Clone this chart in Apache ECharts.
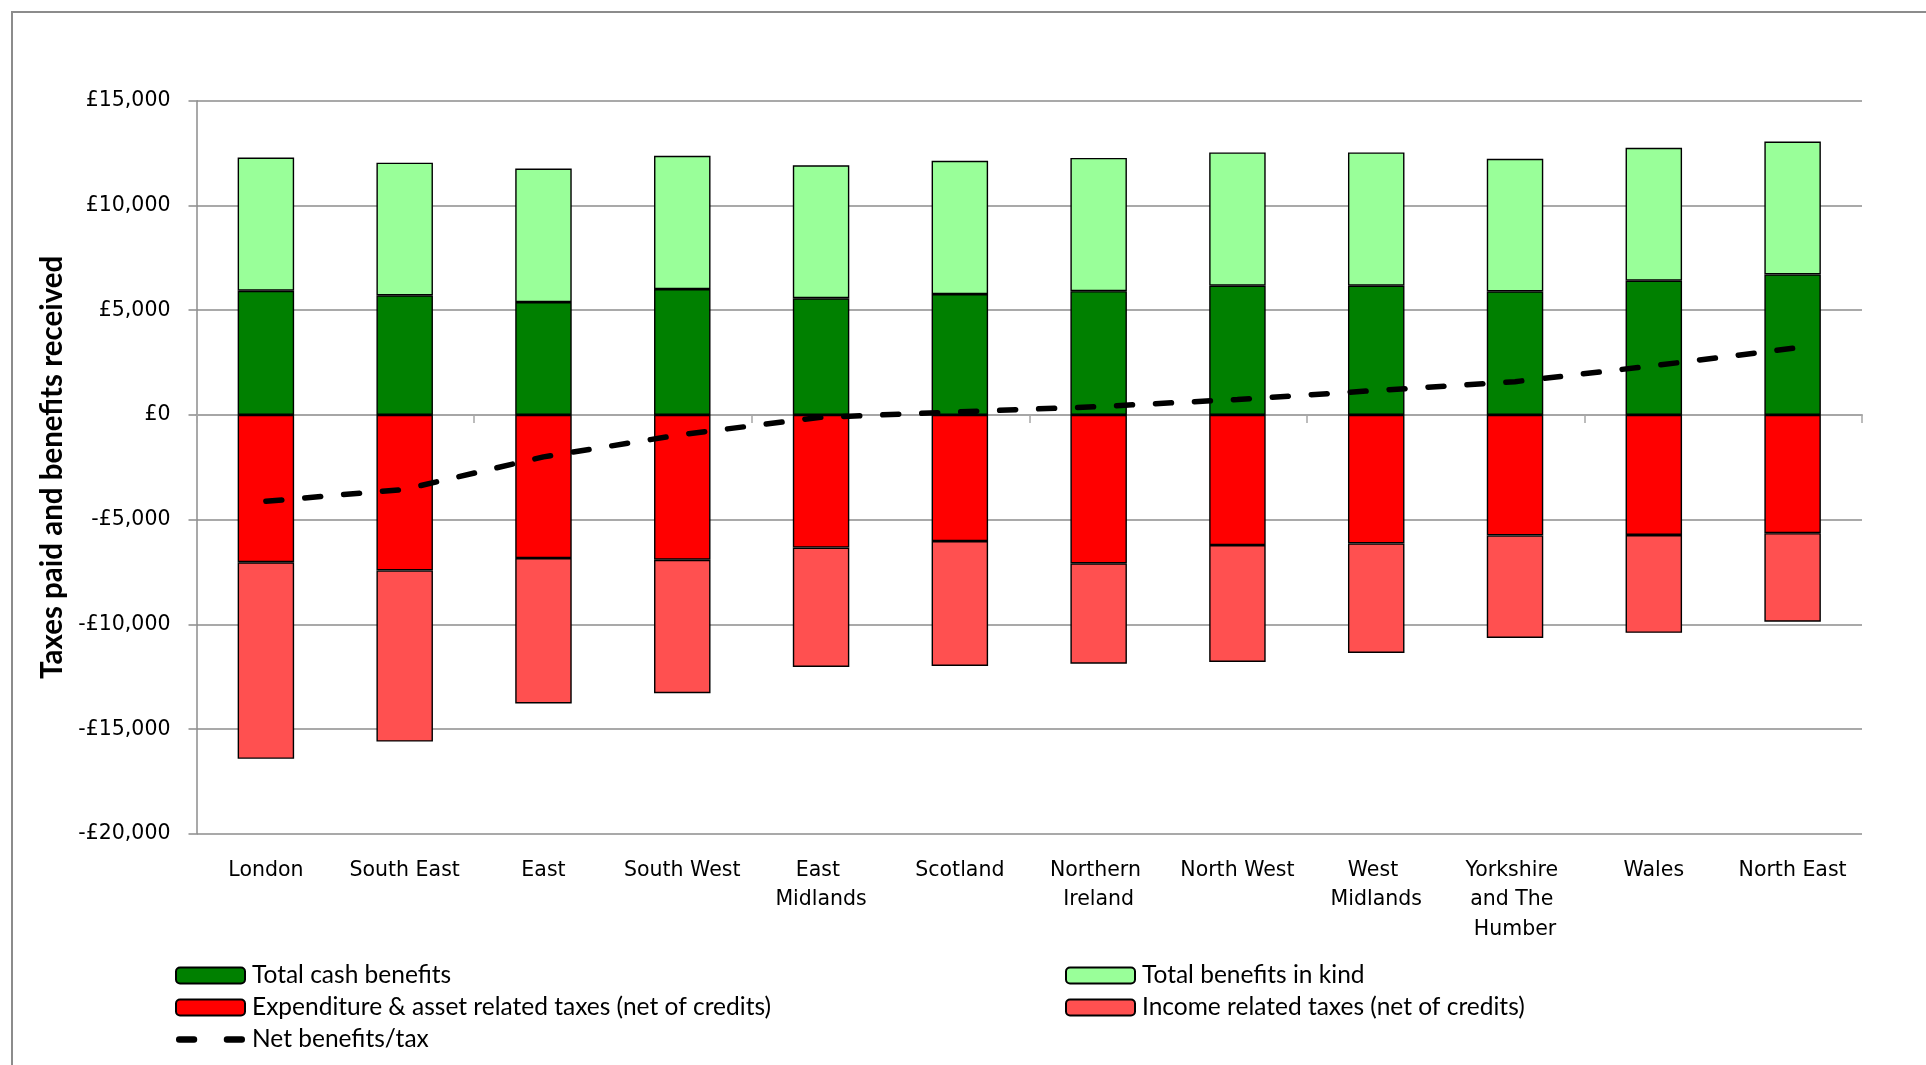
<!DOCTYPE html>
<html>
<head>
<meta charset="utf-8">
<script src="https://cdn.jsdelivr.net/npm/echarts@6/dist/echarts.min.js"></script>
<style>
  html, body { margin: 0; padding: 0; background: #fff; }
  #chart { width: 1926px; height: 1065px; }
</style>
</head>
<body>
<div id="chart"></div>
<script>
// Regions, ordered by net benefit per person
const categories = ['London', 'South East', 'East', 'South West', 'East Midlands', 'Scotland',
  'Northern Ireland', 'North West', 'West Midlands', 'Yorkshire and The Humber', 'Wales', 'North East'];

// Benefits received (positive) and taxes paid (negative), £ per person
const cashBenefits = [5930, 5710, 5390, 6010, 5570, 5770, 5910, 6170, 6170, 5900, 6410, 6710];
const benefitsInKind = [6360, 6330, 6370, 6360, 6350, 6360, 6360, 6360, 6360, 6330, 6340, 6340];
const expenditureTaxes = [-7030, -7420, -6830, -6910, -6330, -6020, -7080, -6210, -6130, -5750, -5730, -5640];
const incomeTaxes = [-9380, -8170, -6940, -6370, -5700, -5960, -4790, -5580, -5230, -4890, -4670, -4230];
const netBenefits = [-4120, -3550, -2000, -930, -110, 150, 400, 740, 1170, 1590, 2350, 3180];

// Value axis range
const yMin = -20000;
const yMax = 15000;
const yStep = 5000;

function poundLabel(v) {
  if (v === 0) return '£0';
  const s = '£' + Math.abs(v).toLocaleString('en-GB');
  return v < 0 ? '-' + s : s;
}

// Two rounded dashes for the net line's legend key
const dashIcon = 'path://M3,0h14a3,3 0 0 1 0,6h-14a3,3 0 0 1 0,-6z M48,0h14a3,3 0 0 1 0,6h-14a3,3 0 0 1 0,-6z';

const chart = echarts.init(document.getElementById('chart'), null, { renderer: 'canvas' });
const grey = '#8c8c8c';
const barBorder = { borderColor: '#000', borderWidth: 1.4 };
const legendText = { fontFamily: 'Lato', fontSize: 24.5, color: '#000', lineHeight: 16, padding: [0, 0, 0, 2] };

chart.setOption({
  backgroundColor: '#fff',
  animation: false,
  graphic: [{
    type: 'rect',
    shape: { x: 12, y: 12, width: 2000, height: 1200 },
    style: { fill: 'none', stroke: grey, lineWidth: 2 },
    silent: true
  }],
  grid: { left: 196.5, right: 64, top: 100.7, bottom: 231, containLabel: false },
  legend: [{
    orient: 'vertical', left: 175, top: 963, padding: 0,
    itemWidth: 69, itemHeight: 16, itemGap: 7,
    data: [
      'Total cash benefits',
      'Expenditure & asset related taxes (net of credits)',
      { name: 'Net benefits/tax', icon: dashIcon, itemStyle: { color: '#000', borderWidth: 0 } }
    ],
    textStyle: legendText
  }, {
    orient: 'vertical', left: 1065, top: 963, padding: 0,
    itemWidth: 69, itemHeight: 16, itemGap: 7,
    data: ['Total benefits in kind', 'Income related taxes (net of credits)'],
    textStyle: legendText
  }],
  xAxis: [{
    type: 'category', data: categories, position: 'bottom',
    axisLine: { show: false, onZero: false },
    axisTick: { show: false },
    axisLabel: {
      interval: 0, fontFamily: 'DejaVu Sans', fontSize: 20.5, color: '#000',
      margin: 21.5, lineHeight: 29.5, width: 136, overflow: 'break'
    }
  }, {
    // category axis drawn along £0, ticks between regions
    type: 'category', data: categories, position: 'bottom',
    axisLine: { show: true, onZero: true, lineStyle: { color: '#a6a6a6', width: 2 } },
    axisTick: { show: true, length: 8, lineStyle: { color: '#a6a6a6', width: 1.5 } },
    axisLabel: { show: false },
    splitLine: { show: false }
  }],
  yAxis: {
    type: 'value', min: yMin, max: yMax, interval: yStep,
    name: 'Taxes paid and benefits received',
    nameLocation: 'middle', nameGap: 126,
    nameTextStyle: { fontFamily: 'Lato', fontWeight: 'bold', fontSize: 29.5, color: '#000' },
    axisLine: { show: true, lineStyle: { color: grey, width: 1.5 } },
    axisTick: { show: true, length: 8, lineStyle: { color: grey, width: 1.5 } },
    splitLine: { show: true, lineStyle: { color: grey, width: 1.5 } },
    axisLabel: {
      formatter: poundLabel, fontFamily: 'DejaVu Sans', fontSize: 20.5, color: '#000', margin: 26
    }
  },
  series: [{
    name: 'Total cash benefits', type: 'bar', stack: 'all', xAxisIndex: 0,
    barWidth: '40.7%', data: cashBenefits,
    itemStyle: Object.assign({ color: '#008000' }, barBorder)
  }, {
    name: 'Total benefits in kind', type: 'bar', stack: 'all', xAxisIndex: 0,
    barWidth: '40.7%', data: benefitsInKind,
    itemStyle: Object.assign({ color: '#99ff99' }, barBorder)
  }, {
    name: 'Expenditure & asset related taxes (net of credits)', type: 'bar', stack: 'all', xAxisIndex: 0,
    barWidth: '40.7%', data: expenditureTaxes,
    itemStyle: Object.assign({ color: '#ff0000' }, barBorder)
  }, {
    name: 'Income related taxes (net of credits)', type: 'bar', stack: 'all', xAxisIndex: 0,
    barWidth: '40.7%', data: incomeTaxes,
    itemStyle: Object.assign({ color: '#ff5050' }, barBorder)
  }, {
    name: 'Net benefits/tax', type: 'line', xAxisIndex: 0, data: netBenefits,
    symbol: 'none', z: 10,
    lineStyle: { color: '#000', width: 5.5, type: [16, 23], cap: 'round' },
    itemStyle: { color: '#000' }
  }]
});
</script>
</body>
</html>
